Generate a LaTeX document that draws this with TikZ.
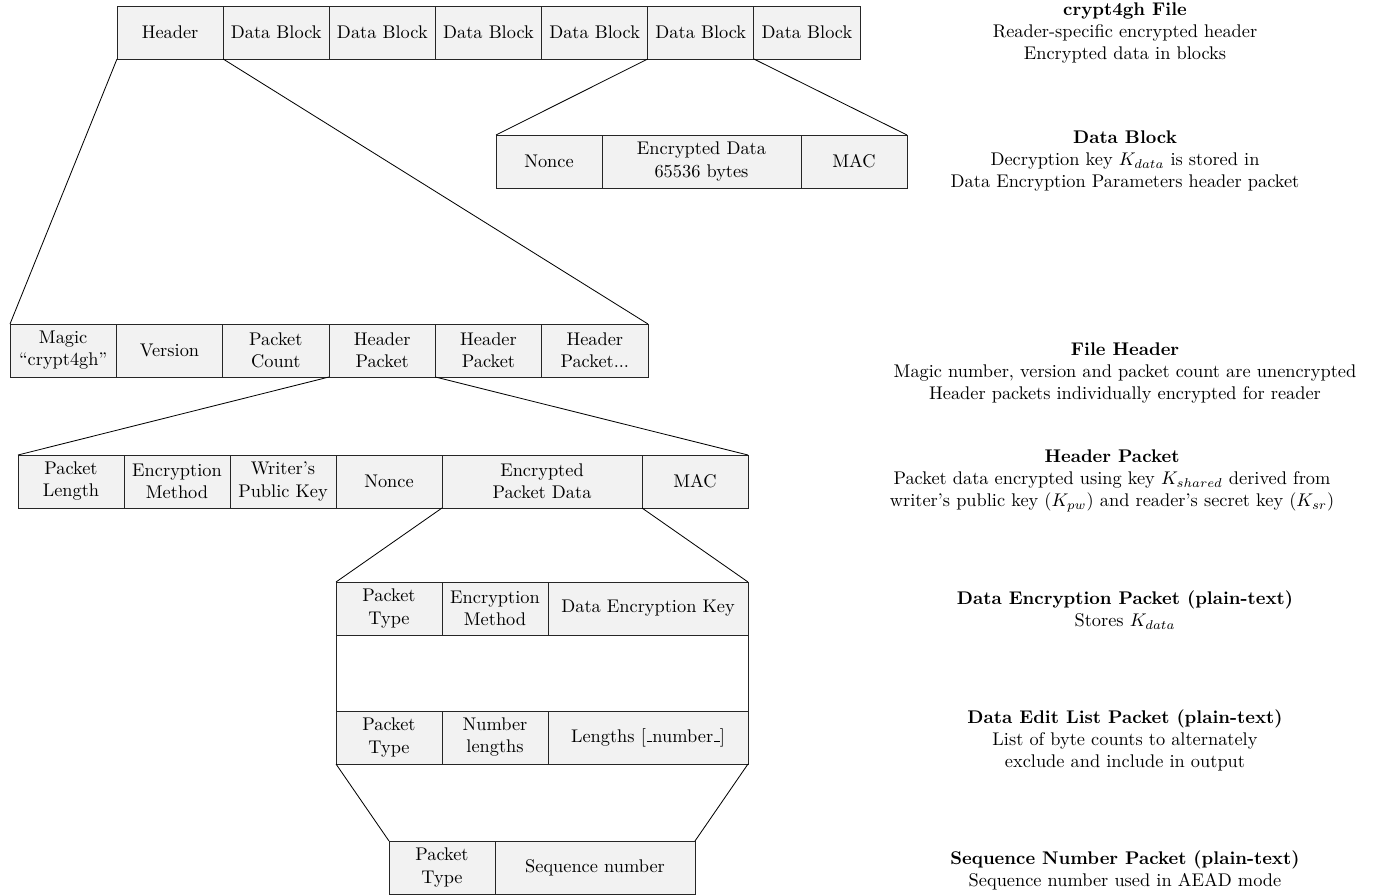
\documentclass[tikz,border=0pt]{standalone}
\def\u{0.545pt}
\newcommand\lowbar{\leavevmode\kern.06em\vbox{\hrule width.3em}}
\tikzset{
  cell/.style={draw=black!85, fill=black!5, anchor=north west, inner sep=0pt, outer sep=0pt,
    minimum height=53*\u, align=center, font=\normalsize},
  blank/.style={draw=black!85, fill=white, anchor=north west, inner sep=0pt, outer sep=0pt},
  conn/.style={draw=black, line width=0.45pt},
  desc/.style={align=center, inner sep=0pt}
}
\begin{document}
\begin{tikzpicture}[x=\u, y=-\u]
\useasboundingbox (0,0) rectangle (1381,894);
% top row: crypt4gh file
\node[cell, minimum width=106.14*\u] (h) at (117,6) {Header};
\node[cell, minimum width=106.14*\u] (d1) at (h.north east) {Data Block};
\node[cell, minimum width=106.14*\u] (d2) at (d1.north east) {Data Block};
\node[cell, minimum width=106.14*\u] (d3) at (d2.north east) {Data Block};
\node[cell, minimum width=106.14*\u] (d4) at (d3.north east) {Data Block};
\node[cell, minimum width=106.14*\u] (d5) at (d4.north east) {Data Block};
\node[cell, minimum width=106.14*\u] (d6) at (d5.north east) {Data Block};
% data block
\node[cell, minimum width=106*\u] (dbn) at (496,135) {Nonce};
\node[cell, minimum width=199*\u] (dbe) at (dbn.north east) {Encrypted Data\\65536 bytes};
\node[cell, minimum width=106*\u] (dbm) at (dbe.north east) {MAC};
% file header
\node[cell, minimum width=106.33*\u] (fm) at (10,324) {Magic\\``crypt4gh''};
\node[cell, minimum width=106.33*\u] (fv) at (fm.north east) {Version};
\node[cell, minimum width=106.33*\u] (fc) at (fv.north east) {Packet\\Count};
\node[cell, minimum width=106.33*\u] (fp1) at (fc.north east) {Header\\Packet};
\node[cell, minimum width=106.33*\u] (fp2) at (fp1.north east) {Header\\Packet};
\node[cell, minimum width=106.33*\u] (fp3) at (fp2.north east) {Header\\Packet...};
% header packet
\node[cell, minimum width=106*\u] (pl) at (18,455) {Packet\\Length};
\node[cell, minimum width=106*\u] (pe) at (pl.north east) {Encryption\\Method};
\node[cell, minimum width=106*\u] (pw) at (pe.north east) {Writer's\\Public Key};
\node[cell, minimum width=106*\u] (pn) at (pw.north east) {Nonce};
\node[cell, minimum width=200*\u] (pd) at (pn.north east) {Encrypted\\Packet Data};
\node[cell, minimum width=106*\u] (pm) at (pd.north east) {MAC};
% data encryption packet
\node[cell, minimum width=106*\u] (et) at (336,582) {Packet\\Type};
\node[cell, minimum width=106*\u] (em) at (et.north east) {Encryption\\Method};
\node[cell, minimum width=200*\u] (ek) at (em.north east) {Data Encryption Key};
\node[blank, minimum width=412*\u, minimum height=76*\u] (gap) at (et.south west) {};
% data edit list packet
\node[cell, minimum width=106*\u] (lt) at (gap.south west) {Packet\\Type};
\node[cell, minimum width=106*\u] (ln) at (lt.north east) {Number\\lengths};
\node[cell, minimum width=200*\u] (ll) at (ln.north east) {Lengths [\lowbar number\lowbar]};
% sequence number packet
\node[cell, minimum width=106*\u] (st) at (389,841) {Packet\\Type};
\node[cell, minimum width=200*\u] (sn) at (st.north east) {Sequence number};
% connectors
\draw[conn] (h.south west) -- (fm.north west);
\draw[conn] (h.south east) -- (fp3.north east);
\draw[conn] (d5.south west) -- (dbn.north west);
\draw[conn] (d5.south east) -- (dbm.north east);
\draw[conn] (fp1.south west) -- (pl.north west);
\draw[conn] (fp1.south east) -- (pm.north east);
\draw[conn] (pd.south west) -- (et.north west);
\draw[conn] (pd.south east) -- (ek.north east);
\draw[conn] (lt.south west) -- (st.north west);
\draw[conn] (ll.south east) -- (sn.north east);
% descriptions
\node[desc] (t1) at (1125,33) {\textbf{crypt4gh File}\\Reader-specific encrypted header\\Encrypted data in blocks};
\node[desc] (t2) at (1125,161) {\textbf{Data Block}\\Decryption key $K_{data}$ is stored in\\Data Encryption Parameters header packet};
\node[desc] (t3) at (1125,373) {\textbf{File Header}\\Magic number, version and packet count are unencrypted\\Header packets individually encrypted for reader};
\node[desc] (t4) at (1112,481) {\textbf{Header Packet}\\Packet data encrypted using key $K_{shared}$ derived from\\writer's public key ($K_{pw}$) and reader's secret key ($K_{sr}$)};
\node[desc] (t5) at (1125,610) {\textbf{Data Encryption Packet (plain-text)}\\Stores $K_{data}$};
\node[desc] (t6) at (1125,740) {\textbf{Data Edit List Packet (plain-text)}\\List of byte counts to alternately\\exclude and include in output};
\node[desc] (t7) at (1125,870) {\textbf{Sequence Number Packet (plain-text)}\\Sequence number used in AEAD mode};
\end{tikzpicture}
\end{document}
